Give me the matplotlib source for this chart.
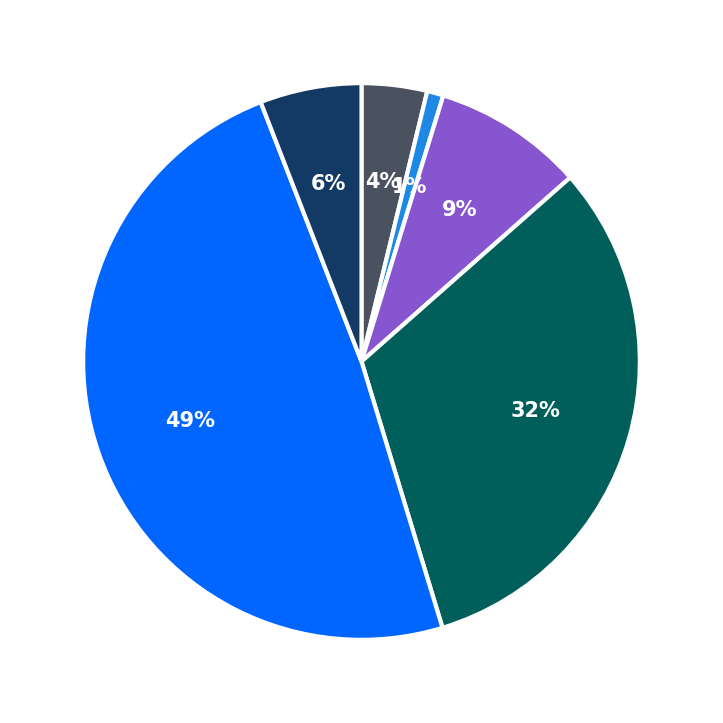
import matplotlib

matplotlib.use("Agg")
import matplotlib.pyplot as plt

values = [3.8, 0.95, 8.75, 31.8, 48.8, 5.9]
colors = ["#4a5260", "#1e88e5", "#8755cf", "#005f5a", "#0066ff", "#133a65"]

fig, ax = plt.subplots(figsize=(7.23, 7.23), dpi=100)
fig.subplots_adjust(left=0.115, right=0.885, bottom=0.115, top=0.885)
wedges, texts, autotexts = ax.pie(
    values,
    colors=colors,
    startangle=90,
    counterclock=False,
    autopct="%1.0f%%",
    pctdistance=0.65,
    radius=1.25,
    wedgeprops={"edgecolor": "white", "linewidth": 3},
    textprops={"color": "white", "fontsize": 15, "fontweight": "bold"},
)
ax.set_aspect("equal")
fig.savefig("out.png", dpi=100)
